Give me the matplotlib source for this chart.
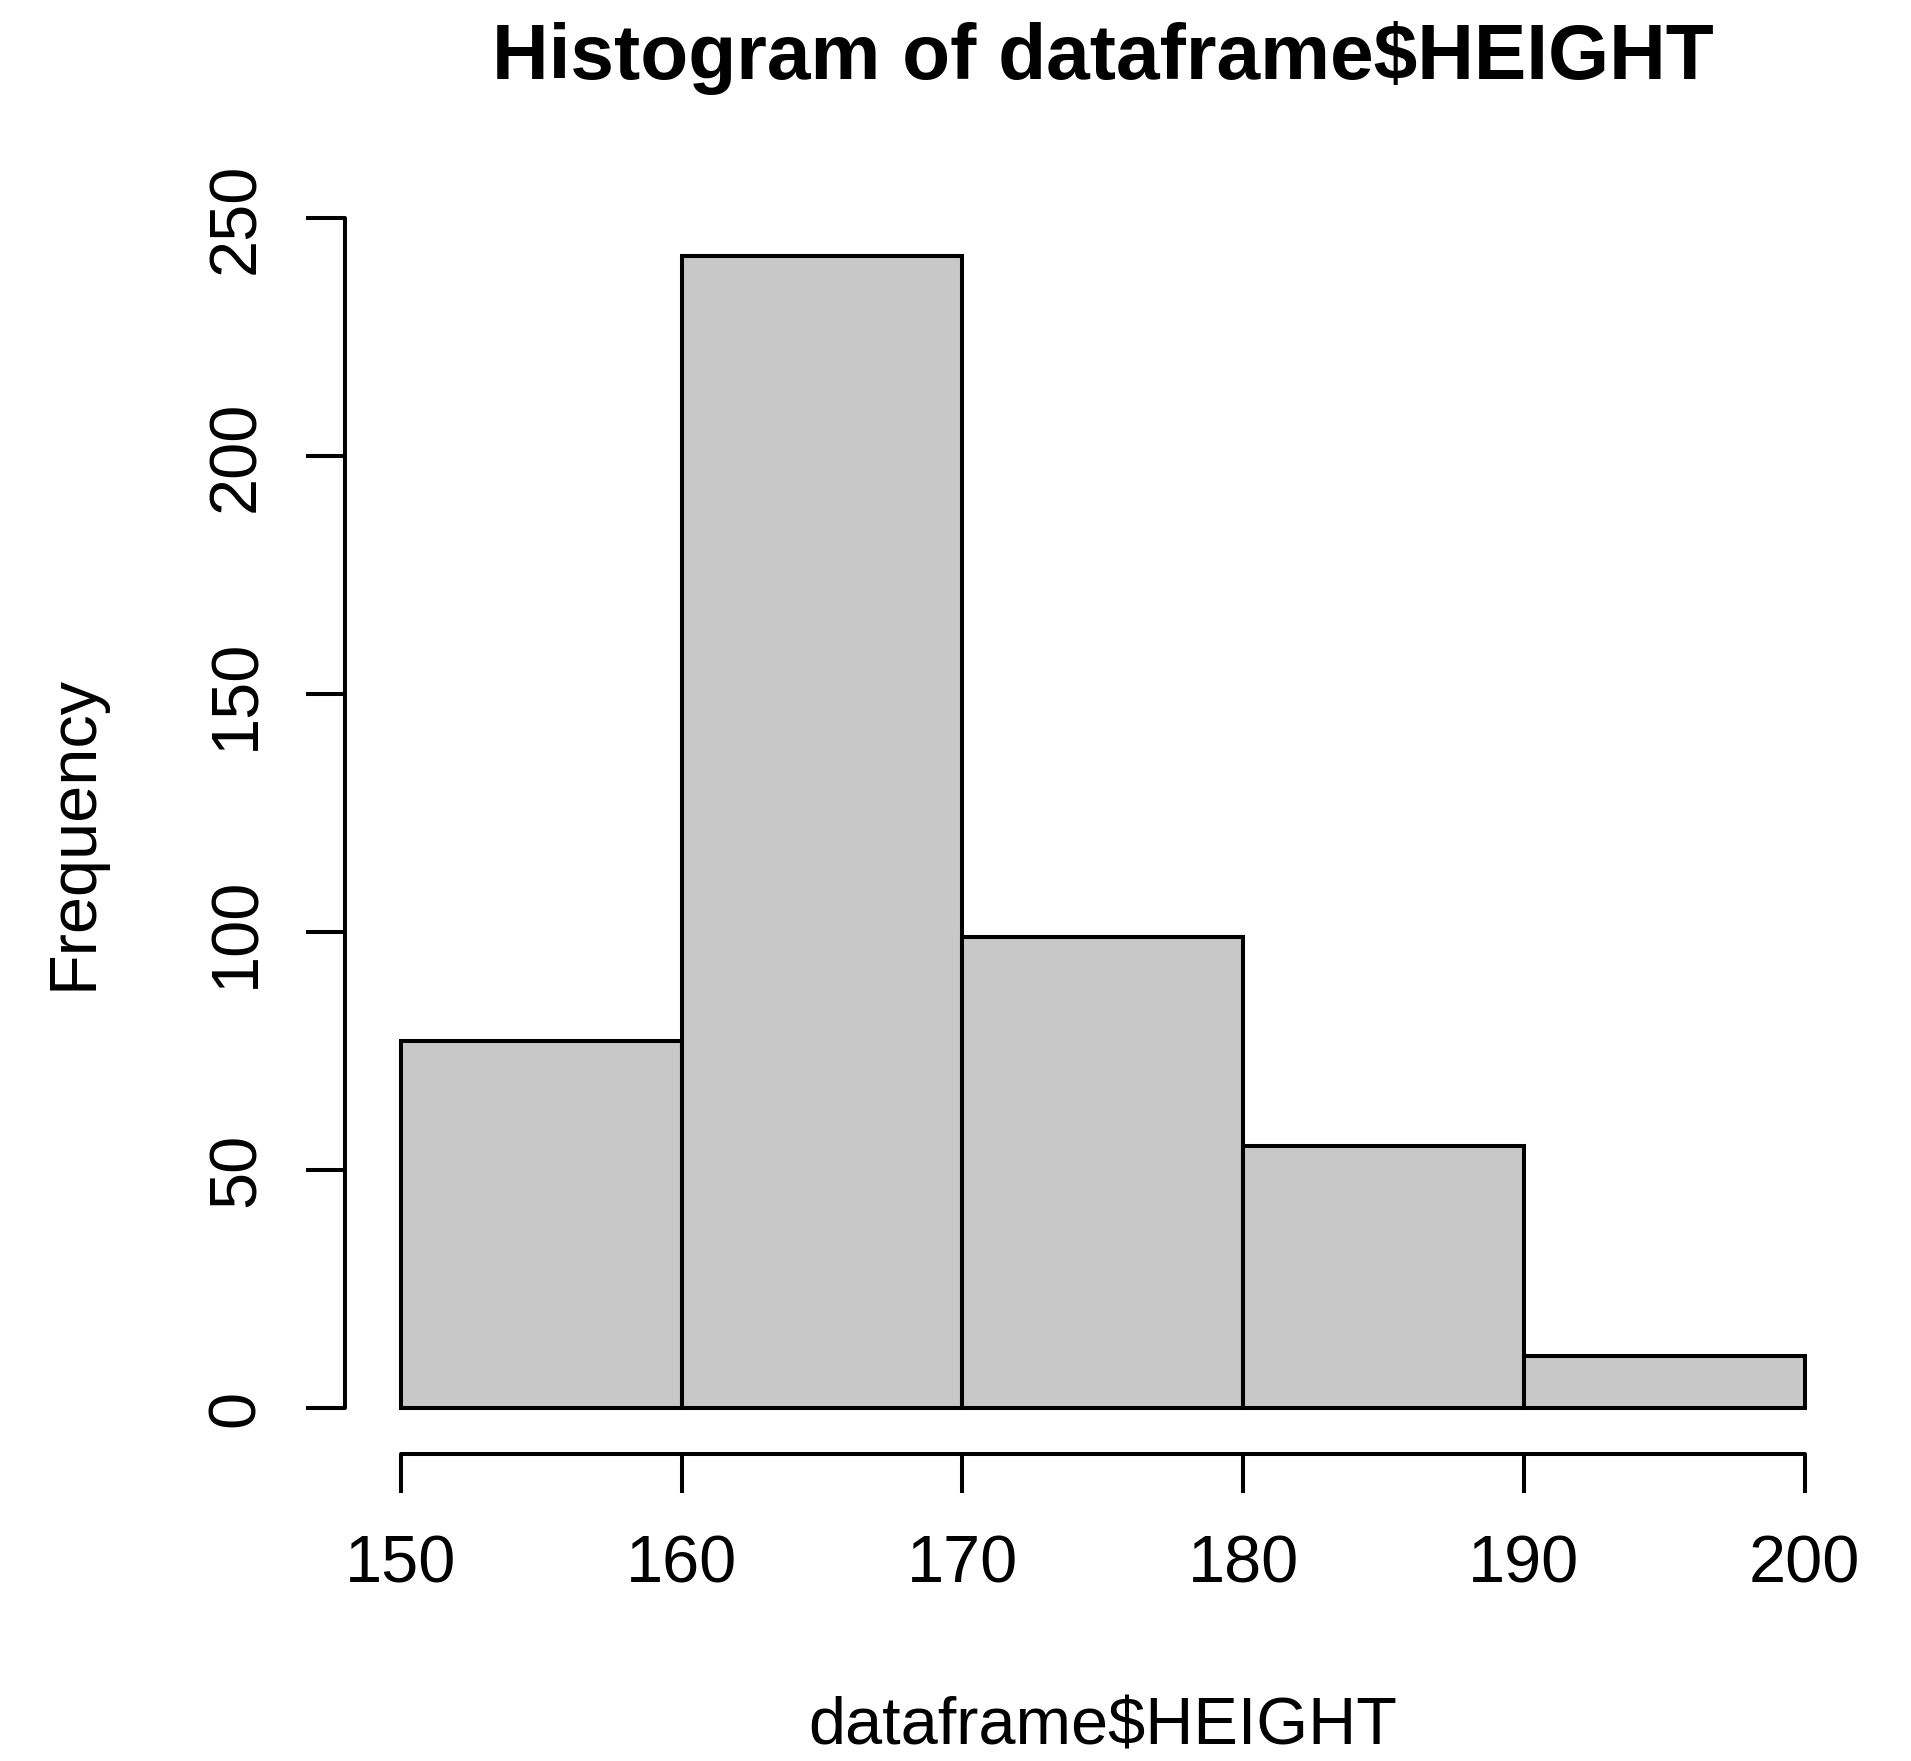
import numpy as np
import matplotlib
matplotlib.use('Agg')
import matplotlib.pyplot as plt

plt.rcParams['font.family'] = ['Liberation Sans', 'DejaVu Sans']

# histogram of heights, 10 cm bins
bin_edges = [150, 160, 170, 180, 190, 200]
counts = [77, 242, 99, 55, 11]
x_ticks = [150, 160, 170, 180, 190, 200]
y_ticks = [0, 50, 100, 150, 200, 250]
title = 'Histogram of dataframe$HEIGHT'
xlabel = 'dataframe$HEIGHT'
ylabel = 'Frequency'

fig = plt.figure(figsize=(19.11, 17.61), dpi=100)
ax = fig.add_axes([0.1804, 0.1743, 0.7933, 0.7064])

lw = 2.9
ax.bar(bin_edges[:-1], counts, width=np.diff(bin_edges), align='edge',
       color='#c8c8c8', edgecolor='black', linewidth=lw)

# R style: 4% padding, axes drawn only over tick range
x0, x1 = bin_edges[0], bin_edges[-1]
dx = (x1 - x0) * 0.04
ax.set_xlim(x0 - dx, x1 + dx)
dy = max(counts) * 0.04
ax.set_ylim(-dy, max(counts) + dy)

for s in ['top', 'right']:
    ax.spines[s].set_visible(False)
ax.spines['left'].set_bounds(y_ticks[0], y_ticks[-1])
ax.spines['bottom'].set_bounds(x_ticks[0], x_ticks[-1])
for s in ['left', 'bottom']:
    ax.spines[s].set_linewidth(lw)
    ax.spines[s].set_capstyle('round')

ax.set_xticks(x_ticks)
ax.set_yticks(y_ticks)
ax.set_yticklabels([str(v) for v in y_ticks], rotation=90, va='center')
ax.tick_params(axis='both', length=28, width=lw, labelsize=48)
ax.tick_params(axis='x', pad=30)
ax.tick_params(axis='y', pad=27)

ax.set_xlabel(xlabel, fontsize=48)
ax.xaxis.set_label_coords(0.5, -0.1945)
ax.set_ylabel(ylabel, fontsize=48)
ax.yaxis.set_label_coords(-0.158, 0.5)
ax.set_title(title, fontsize=56.5, fontweight='bold', y=1.1053, pad=0)

fig.savefig('out.png', dpi=100, facecolor='white')
